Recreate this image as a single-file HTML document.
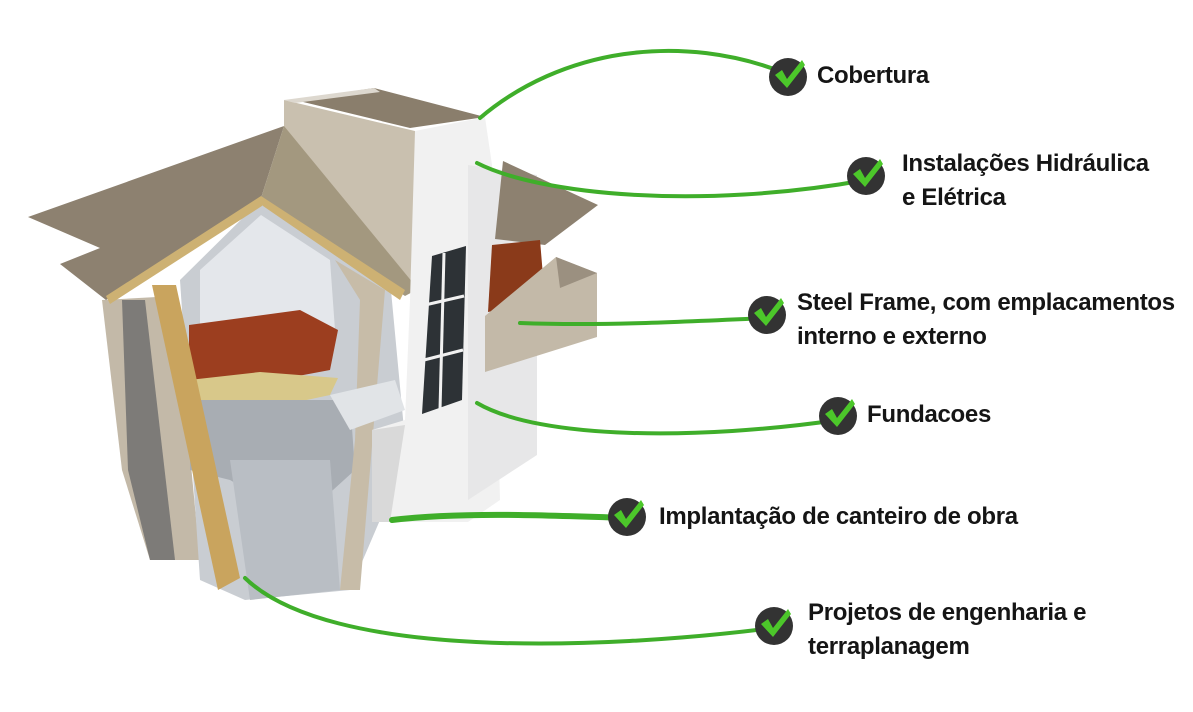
<!DOCTYPE html>
<html><head><meta charset="utf-8"><style>
html,body{margin:0;padding:0;background:#fff;}
#c{position:relative;width:1193px;height:712px;overflow:hidden;}
.t{position:absolute;font-family:"Liberation Sans Narrow","Liberation Sans",sans-serif;font-weight:bold;font-size:24px;line-height:34px;color:#151515;letter-spacing:-0.3px;white-space:nowrap;}
</style></head><body><div id="c">
<svg width="1193" height="712" style="position:absolute;left:0;top:0">
<!-- left beige wall -->
<polygon points="102,300 175,296 200,560 150,560 122,470" fill="#c3b9a8"/>
<polygon points="122,300 145,300 175,560 150,560 128,470" fill="#7d7b78"/>
<!-- interior -->
<polygon points="180,280 261,200 390,280 405,440 380,520 350,590 245,600 200,580" fill="#c9cdd2"/>
<polygon points="200,270 261,215 330,260 335,330 200,335" fill="#e4e7eb"/>
<polygon points="189,325 300,310 338,330 330,370 250,385 189,380" fill="#9c3e1f"/>
<polygon points="189,380 260,372 338,378 330,395 260,410 200,400" fill="#d8c88a"/>
<polygon points="190,400 350,400 355,470 300,520 230,480 190,470" fill="#a8adb3"/>
<polygon points="230,460 330,460 340,590 250,600" fill="#b9bec4"/>
<polygon points="335,260 360,300 355,440 340,590 360,590 385,290" fill="#c7bca8"/>
<!-- OSB strip -->
<polygon points="152,285 176,285 240,578 218,590" fill="#c9a45e"/>
<!-- balcony railing -->
<polygon points="330,395 395,380 405,410 350,430" fill="#e1e4e7"/>
<!-- tower beige face -->
<polygon points="284,100 415,131 415,290 360,250 284,140" fill="#c9c0af"/>
<!-- left roof plane -->
<polygon points="28,217 284,126 261,198 106,300 60,264 100,248" fill="#8d8170"/>
<!-- right roof plane -->
<polygon points="284,126 418,289 405,296 261,198" fill="#a3987f"/>
<!-- eaves OSB -->
<polygon points="106,296 261,196 265,204 110,304" fill="#cdb173"/>
<polygon points="261,196 405,290 400,300 263,206" fill="#cdb173"/>
<!-- tower top roof -->
<polygon points="295,100 374,88 485,117 410,128" fill="#8a7e6c"/>
<polygon points="284,100 374,88 380,92 295,103" fill="#ddd8cf"/>
<!-- white tower -->
<polygon points="415,131 485,117 492,165 500,500 468,522 372,522 372,430 405,420 410,300" fill="#f1f1f1"/>
<polygon points="468,165 537,175 537,455 468,500" fill="#e7e7e8"/>
<polygon points="372,430 405,425 390,522 372,522" fill="#d9d9d9"/>
<!-- windows -->
<polygon points="432,256 466,246 462,400 422,414" fill="#2d3236"/>
<line x1="444" y1="253" x2="440" y2="410" stroke="#f1f1f1" stroke-width="3"/>
<line x1="425" y1="305" x2="464" y2="296" stroke="#f1f1f1" stroke-width="3"/>
<line x1="424" y1="360" x2="463" y2="350" stroke="#f1f1f1" stroke-width="3"/>
<!-- right roof -->
<polygon points="503,161 598,205 545,245 495,239" fill="#8d8170"/>
<polygon points="492,245 540,240 545,300 488,312" fill="#8a3a1a"/>
<!-- balcony -->
<polygon points="485,316 556,257 597,273 597,337 485,372" fill="#c3b9a8"/>
<polygon points="556,257 597,273 560,288" fill="#9b9080"/>
<!-- connectors -->
<g fill="none" stroke="#3fae2a" stroke-linecap="round">
<path d="M480,118 C560,50 680,30 790,75" stroke-width="4"/>
<path d="M477,163 C540,195 700,210 866,180" stroke-width="4"/>
<path d="M520,323 C600,326 680,322 767,318" stroke-width="4"/>
<path d="M477,403 C540,440 700,440 838,420" stroke-width="4"/>
<path d="M392,520 C460,512 540,515 627,518" stroke-width="6"/>
<path d="M245,578 C330,660 600,650 773,628" stroke-width="4"/>
</g>
<g>
<circle cx="788" cy="77" r="19" fill="#333"/>
<circle cx="866" cy="176" r="19" fill="#333"/>
<circle cx="767" cy="315" r="19" fill="#333"/>
<circle cx="838" cy="416" r="19" fill="#333"/>
<circle cx="627" cy="517" r="19" fill="#333"/>
<circle cx="774" cy="626" r="19" fill="#333"/>
</g>
<g fill="#4cc72a">
<polygon transform="translate(788,77)" points="-13,-2 -6,-7 -1,2 14,-17 17,-12 -1,11"/>
<polygon transform="translate(866,176)" points="-13,-2 -6,-7 -1,2 14,-17 17,-12 -1,11"/>
<polygon transform="translate(767,315)" points="-13,-2 -6,-7 -1,2 14,-17 17,-12 -1,11"/>
<polygon transform="translate(838,416)" points="-13,-2 -6,-7 -1,2 14,-17 17,-12 -1,11"/>
<polygon transform="translate(627,517)" points="-13,-2 -6,-7 -1,2 14,-17 17,-12 -1,11"/>
<polygon transform="translate(774,626)" points="-13,-2 -6,-7 -1,2 14,-17 17,-12 -1,11"/>
</g>
</svg>
<div class="t" style="left:817px;top:59px">Cobertura</div>
<div class="t" style="left:902px;top:147px">Instalações Hidráulica<br>e Elétrica</div>
<div class="t" style="left:797px;top:286px">Steel Frame, com emplacamentos<br>interno e externo</div>
<div class="t" style="left:867px;top:398px">Fundacoes</div>
<div class="t" style="left:659px;top:500px">Implantação de canteiro de obra</div>
<div class="t" style="left:808px;top:596px">Projetos de engenharia e<br>terraplanagem</div>
</div></body></html>
